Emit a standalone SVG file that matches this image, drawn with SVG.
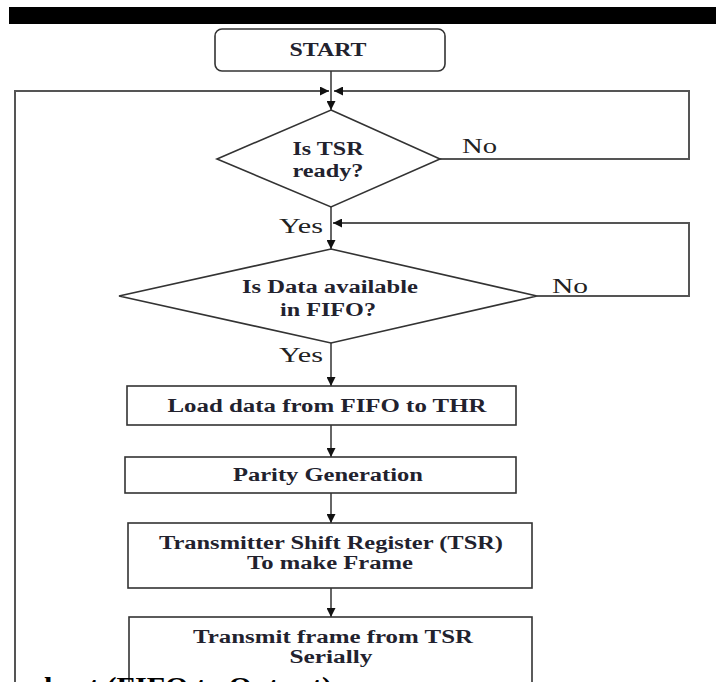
<svg xmlns="http://www.w3.org/2000/svg" width="716" height="682" viewBox="0 0 716 682">
<style>
.box{fill:#fff;stroke:#333;stroke-width:1.6}
.t{font-family:"Liberation Serif","Times New Roman",serif;font-weight:bold;font-size:18px;fill:#22222e;text-anchor:middle}
.lbl{font-family:"Liberation Serif","Times New Roman",serif;font-size:22px;fill:#222}
.c{fill:none;stroke:#333;stroke-width:1.5}
.loop{fill:none;stroke:#555;stroke-width:2}
</style>
<defs>
<marker id="ah" viewBox="0 0 10 10" refX="10" refY="5" markerWidth="9" markerHeight="9" markerUnits="userSpaceOnUse" orient="auto">
<path d="M0,0 L10,5 L0,10 z" fill="#111"/>
</marker>
</defs>
<rect width="716" height="682" fill="#fff"/>
<rect x="9" y="7" width="707" height="17" fill="#000"/>
<g id="connectors">
<line class="c" x1="331" y1="71" x2="331" y2="110" marker-end="url(#ah)"/>
<polyline class="loop" points="15,682 15,91 329,91" marker-end="url(#ah)"/>
<polyline class="loop" points="440,159 689,159 689,91 334,91" marker-end="url(#ah)"/>
<line class="c" x1="331" y1="207" x2="331" y2="249" marker-end="url(#ah)"/>
<polyline class="loop" points="537,296 689,296 689,223 333,223" marker-end="url(#ah)"/>
<line class="c" x1="331" y1="343" x2="331" y2="386" marker-end="url(#ah)"/>
<line class="c" x1="331" y1="425" x2="331" y2="457" marker-end="url(#ah)"/>
<line class="c" x1="331" y1="493" x2="331" y2="523" marker-end="url(#ah)"/>
<line class="c" x1="331" y1="588" x2="331" y2="617" marker-end="url(#ah)"/>
<text class="lbl" x="462" y="153" textLength="35" lengthAdjust="spacingAndGlyphs">No</text>
<text class="lbl" x="279" y="233" textLength="44" lengthAdjust="spacingAndGlyphs">Yes</text>
<text class="lbl" x="552" y="293" textLength="36" lengthAdjust="spacingAndGlyphs">No</text>
<text class="lbl" x="279" y="362" textLength="44" lengthAdjust="spacingAndGlyphs">Yes</text>
</g>
<g id="start">
<rect class="box" x="215" y="29" width="230" height="42" rx="7"/>
<text class="t" x="328" y="56" textLength="77" lengthAdjust="spacingAndGlyphs">START</text>
</g>
<g id="tsr-ready">
<polygon class="box" points="331,110 440,159 331,207 217,159"/>
<text class="t" x="328" y="155" textLength="71" lengthAdjust="spacingAndGlyphs">Is TSR</text>
<text class="t" x="328" y="177" textLength="71" lengthAdjust="spacingAndGlyphs">ready?</text>
</g>
<g id="data-available">
<polygon class="box" points="331,249 537,296 331,343 119,296"/>
<text class="t" x="330" y="293" textLength="176" lengthAdjust="spacingAndGlyphs">Is Data available</text>
<text class="t" x="328" y="316" textLength="96" lengthAdjust="spacingAndGlyphs">in FIFO?</text>
</g>
<g id="load">
<rect class="box" x="127" y="386" width="389" height="39"/>
<text class="t" x="327" y="412" textLength="319" lengthAdjust="spacingAndGlyphs">Load data from FIFO to THR</text>
</g>
<g id="parity">
<rect class="box" x="125" y="457" width="391" height="36"/>
<text class="t" x="328" y="481" textLength="190" lengthAdjust="spacingAndGlyphs">Parity Generation</text>
</g>
<g id="tsr">
<rect class="box" x="128" y="523" width="404" height="65"/>
<text class="t" x="331" y="549" textLength="344" lengthAdjust="spacingAndGlyphs">Transmitter Shift Register (TSR)</text>
<text class="t" x="330" y="569" textLength="166" lengthAdjust="spacingAndGlyphs">To make Frame</text>
</g>
<g id="transmit">
<rect class="box" x="129" y="617" width="403" height="80"/>
<text class="t" x="333" y="643" textLength="280" lengthAdjust="spacingAndGlyphs">Transmit frame from TSR</text>
<text class="t" x="331" y="663" textLength="83" lengthAdjust="spacingAndGlyphs">Serially</text>
</g>
<text x="44" y="696" font-family="Liberation Serif, serif" font-weight="bold" font-size="28" fill="#000" textLength="288" lengthAdjust="spacingAndGlyphs">hart (FIFO to Output)</text>
</svg>
